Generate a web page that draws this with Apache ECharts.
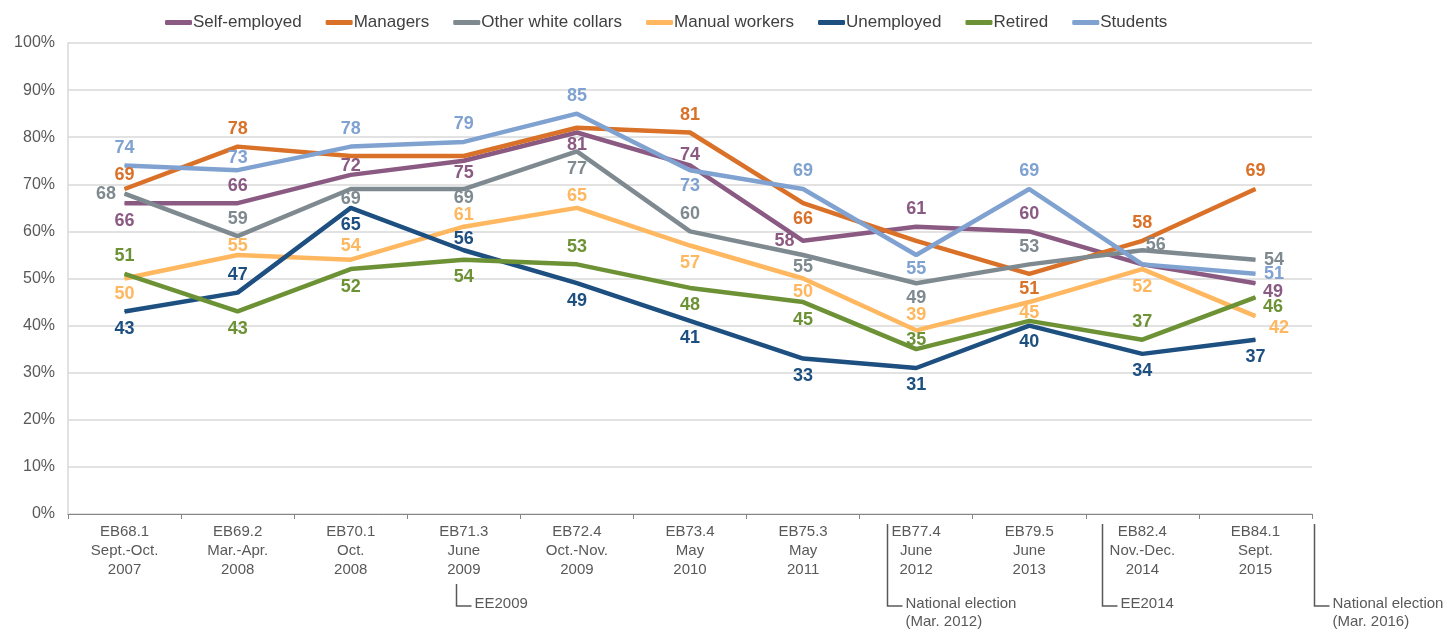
<!DOCTYPE html>
<html>
<head>
<meta charset="utf-8">
<script src="https://cdn.jsdelivr.net/npm/echarts@6/dist/echarts.min.js"></script>
<style>
  html, body { margin: 0; padding: 0; background: #fff; }
  #chart { width: 1455px; height: 630px; }
</style>
</head>
<body>
<div id="chart"></div>
<script>
const categories = [
  'EB68.1\nSept.-Oct.\n2007', 'EB69.2\nMar.-Apr.\n2008', 'EB70.1\nOct.\n2008', 'EB71.3\nJune\n2009',
  'EB72.4\nOct.-Nov.\n2009', 'EB73.4\nMay\n2010', 'EB75.3\nMay\n2011', 'EB77.4\nJune\n2012',
  'EB79.5\nJune\n2013', 'EB82.4\nNov.-Dec.\n2014', 'EB84.1\nSept.\n2015'
];
const yTicks = [0, 10, 20, 30, 40, 50, 60, 70, 80, 90, 100];

const selfEmployed = [66, 66, 72, 75, 81, 74, 58, 61, 60, 53, 49];
const managers = [69, 78, 76, 76, 82, 81, 66, 58, 51, 58, 69];
const otherWhiteCollars = [68, 59, 69, 69, 77, 60, 55, 49, 53, 56, 54];
const manualWorkers = [50, 55, 54, 61, 65, 57, 50, 39, 45, 52, 42];
const unemployed = [43, 47, 65, 56, 49, 41, 33, 31, 40, 34, 37];
const retired = [51, 43, 52, 54, 53, 48, 45, 35, 41, 37, 46];
const students = [74, 73, 78, 79, 85, 73, 69, 55, 69, 53, 51];

// label placement per point: side (t/b/l/r), optional gap and vertical shift; null = no label
const labelPlace = {
  'Self-employed':       ['b', 't', ['t', -1], ['b', 3], ['b', 3], ['t', 1], 'l', 't', 't', null, ['r', 7, 9]],
  'Managers':            [['t', 4], 't', null, null, null, 't', ['b', 6], null, ['b', 6], 't', 't'],
  'Other white collars': ['l', 't', ['b', 1], ['b', 0], 'b', 't', ['b', 3], ['b', 5], 't', ['r', 3, -5], 'r'],
  'Manual workers':      [['b', 6], ['t', -1], ['t', 4], ['t', 2], ['t', 2], 'b', ['b', 4], ['t', 6], ['b', 1], 'b', ['r', 13, 12]],
  'Unemployed':          ['b', 't', 'b', ['t', 2], 'b', 'b', 'b', 'b', ['b', 7], 'b', 'b'],
  'Retired':             ['t', 'b', 'b', 'b', 't', 'b', 'b', ['t', 0], null, 't', ['r', 7, 10]],
  'Students':            ['t', ['t', 3], 't', 't', 't', ['b', 6], 't', ['b', 5], 't', null, 'r']
};

const seriesDefs = [
  { name: 'Self-employed', data: selfEmployed, color: '#8b5a83' },
  { name: 'Managers', data: managers, color: '#d97128' },
  { name: 'Other white collars', data: otherWhiteCollars, color: '#7e8a90' },
  { name: 'Manual workers', data: manualWorkers, color: '#ffb760' },
  { name: 'Unemployed', data: unemployed, color: '#1d4f80' },
  { name: 'Retired', data: retired, color: '#6d9236' },
  { name: 'Students', data: students, color: '#80a2d1' }
];

const posMap = { t: 'top', b: 'bottom', l: 'left', r: 'right' };

const gridLeft = 68, gridRight = 1312;
const band = (gridRight - gridLeft) / categories.length;

// election markers: position in category bands
const markers = [
  { at: 3.43, top: 584, lines: ['EE2009'] },
  { at: 7.24, top: 524, lines: ['National election', '(Mar. 2012)'] },
  { at: 9.14, top: 524, lines: ['EE2014'] },
  { at: 11.02, top: 524, lines: ['National election', '(Mar. 2016)'] }
];

const graphics = [];
markers.forEach(m => {
  const x = Math.round(gridLeft + band * m.at) + 0.5;
  graphics.push({
    type: 'polyline',
    shape: { points: [[x, m.top], [x, 606], [x + 15, 606]] },
    style: { stroke: '#595959', lineWidth: 1.5, fill: null }
  });
  graphics.push({
    type: 'text',
    left: x + 18,
    top: 595,
    style: {
      text: m.lines.join('\n'),
      font: '15px "Liberation Sans", Arial, sans-serif',
      fill: '#595959',
      lineHeight: 18
    }
  });
});

function makeLabel(spec, color) {
  if (!spec) return { show: false };
  const [side, gap, dy] = Array.isArray(spec) ? spec : [spec];
  const base = { show: true, color: color, fontSize: 18, fontWeight: 'bold' };
  if (dy) {
    // side label nudged up/down: place relative to the 1px symbol box
    return Object.assign(base, {
      position: [gap + 1, 0.5 + dy],
      align: 'left',
      verticalAlign: 'middle'
    });
  }
  return Object.assign(base, {
    position: posMap[side],
    distance: gap === undefined ? 8 : gap
  });
}

const chart = echarts.init(document.getElementById('chart'));
const option = {
  animation: false,
  textStyle: { fontFamily: '"Liberation Sans", Arial, sans-serif' },
  legend: {
    top: 9,
    left: 160,
    icon: 'roundRect',
    itemWidth: 27,
    itemHeight: 5,
    itemGap: 24,
    textStyle: { fontSize: 17, color: '#404040', padding: [0, 0, 0, -4] },
    data: seriesDefs.map(s => s.name)
  },
  grid: { left: gridLeft, right: 1455 - gridRight, top: 43, bottom: 116 },
  xAxis: {
    type: 'category',
    data: categories,
    boundaryGap: true,
    axisLine: { lineStyle: { color: '#868686', width: 1 } },
    axisTick: { show: true, length: 5, interval: 0, lineStyle: { color: '#868686' } },
    axisLabel: { interval: 0, color: '#595959', fontSize: 15, lineHeight: 19, margin: 8 }
  },
  yAxis: {
    type: 'value',
    min: yTicks[0],
    max: yTicks[yTicks.length - 1],
    interval: 10,
    axisLine: { show: true, lineStyle: { color: '#d9d9d9', width: 1.5 } },
    axisTick: { show: false },
    splitLine: { lineStyle: { color: '#d9d9d9', width: 1.5 } },
    axisLabel: { color: '#595959', fontSize: 16, margin: 13, formatter: '{value}%' }
  },
  graphic: graphics,
  series: seriesDefs.map(s => ({
    name: s.name,
    type: 'line',
    symbol: 'circle',
    symbolSize: 1,
    showSymbol: true,
    itemStyle: { color: s.color },
    color: s.color,
    lineStyle: { width: 4.5, color: s.color },
    emphasis: { disabled: true },
    labelLayout: { hideOverlap: false },
    data: s.data.map((v, i) => ({
      value: v,
      label: makeLabel(labelPlace[s.name][i], s.color)
    }))
  }))
};
chart.setOption(option);
</script>
</body>
</html>
